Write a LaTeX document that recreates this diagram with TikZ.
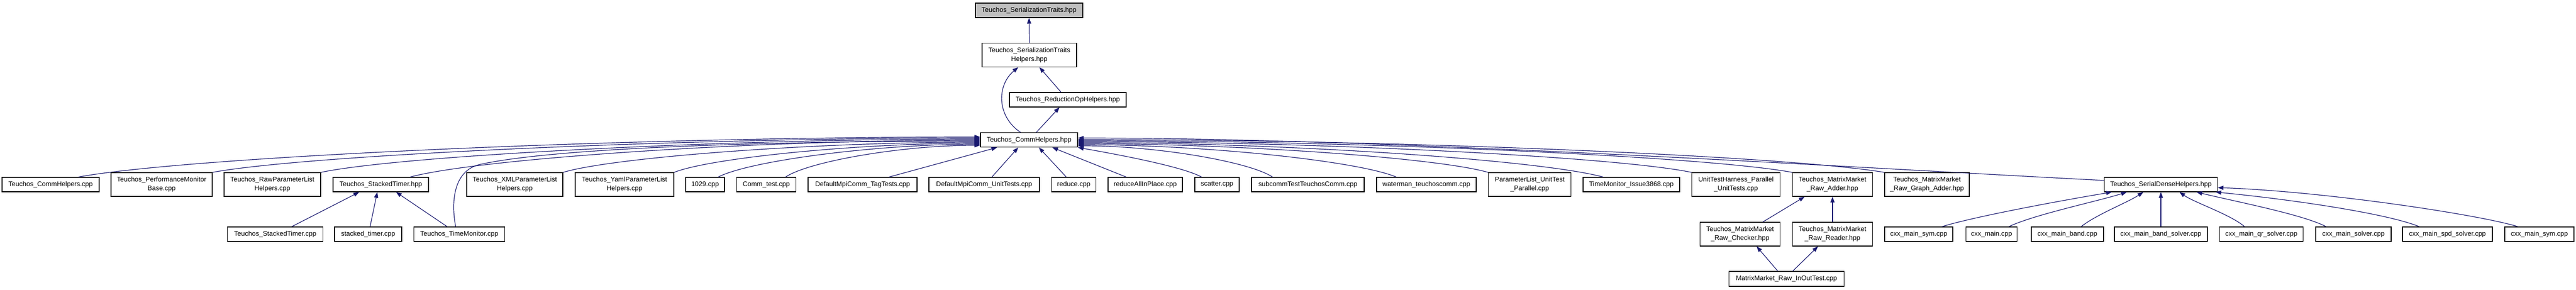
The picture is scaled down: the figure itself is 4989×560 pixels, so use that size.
\documentclass[tikz,border=0pt]{standalone}
\usepackage{fontspec}
\setmainfont{Liberation Sans}
\usetikzlibrary{arrows.meta}
\definecolor{edgeblue}{RGB}{25,25,112}
\definecolor{topgray}{RGB}{191,191,191}
\begin{document}
\begin{tikzpicture}[x=1pt,y=-1pt,
  box/.style={draw=black,line width=1.2pt,fill=white,inner sep=0pt,align=center,font=\fontsize{13}{17}\selectfont},
  one/.style={box,minimum height=28pt},
  two/.style={box,minimum height=46pt},
  dep/.style={draw=edgeblue,line width=1.2pt,-{Triangle[length=11pt,width=8pt]}}]
\fill[white] (0,0) rectangle (4989,560);
\useasboundingbox (0,0) rectangle (4989,560);
% top part
\node[one,fill=topgray,minimum width=208pt] (top) at (1993,20) {Teuchos\_SerializationTraits.hpp};
\node[two,minimum width=183pt] (hlp) at (1993.5,106.5) {Teuchos\_SerializationTraits\\Helpers.hpp};
\node[one,minimum width=226pt] (red) at (2068,193) {Teuchos\_ReductionOpHelpers.hpp};
\node[one,minimum width=188pt] (chh) at (1993,270.7) {Teuchos\_CommHelpers.hpp};
% row 1
\node[one,minimum width=188pt] (chcpp) at (98,357) {Teuchos\_CommHelpers.cpp};
\node[two,minimum width=196pt] (perf) at (313,357) {Teuchos\_PerformanceMonitor\\Base.cpp};
\node[two,minimum width=187pt] (raw) at (527.5,357) {Teuchos\_RawParameterList\\Helpers.cpp};
\node[one,minimum width=185pt] (sth) at (737.5,357) {Teuchos\_StackedTimer.hpp};
\node[two,minimum width=186pt] (xml) at (997,357) {Teuchos\_XMLParameterList\\Helpers.cpp};
\node[two,minimum width=191pt] (yaml) at (1209.5,357) {Teuchos\_YamlParameterList\\Helpers.cpp};
\node[one,minimum width=75pt] (n1029) at (1365.5,357) {1029.cpp};
\node[one,minimum width=115pt] (commtest) at (1484,357) {Comm\_test.cpp};
\node[one,minimum width=211pt] (tag) at (1670.5,357) {DefaultMpiComm\_TagTests.cpp};
\node[one,minimum width=214pt] (unit) at (1906,357) {DefaultMpiComm\_UnitTests.cpp};
\node[one,minimum width=86pt] (reduce) at (2079.6,357) {reduce.cpp};
\node[one,minimum width=144pt] (rail) at (2218,357) {reduceAllInPlace.cpp};
\node[one,minimum width=86pt] (scatter) at (2357,357) {scatter.cpp};
\node[one,minimum width=218pt] (subcomm) at (2533,357) {subcommTestTeuchosComm.cpp};
\node[one,minimum width=193pt] (waterman) at (2762.5,357) {waterman\_teuchoscomm.cpp};
\node[two,minimum width=160pt] (plut) at (2962.6,357) {ParameterList\_UnitTest\\\_Parallel.cpp};
\node[one,minimum width=187pt] (tm3868) at (3159.5,357) {TimeMonitor\_Issue3868.cpp};
\node[two,minimum width=171pt] (uth) at (3362,357) {UnitTestHarness\_Parallel\\\_UnitTests.cpp};
\node[two,minimum width=155pt] (adder) at (3549,357) {Teuchos\_MatrixMarket\\\_Raw\_Adder.hpp};
\node[two,minimum width=164pt] (gadder) at (3732,357) {Teuchos\_MatrixMarket\\\_Raw\_Graph\_Adder.hpp};
\node[one,minimum width=219pt] (sdh) at (4185,357) {Teuchos\_SerialDenseHelpers.hpp};
% row 2
\node[one,minimum width=185pt] (stcpp) at (533,453) {Teuchos\_StackedTimer.cpp};
\node[one,minimum width=130pt] (stk) at (713,453) {stacked\_timer.cpp};
\node[one,minimum width=176pt] (tmcpp) at (889.5,453) {Teuchos\_TimeMonitor.cpp};
\node[two,minimum width=155pt] (checker) at (3370,453) {Teuchos\_MatrixMarket\\\_Raw\_Checker.hpp};
\node[two,minimum width=155pt] (reader) at (3549,453) {Teuchos\_MatrixMarket\\\_Raw\_Reader.hpp};
\node[one,minimum width=132pt] (cxa) at (3716,453) {cxx\_main\_sym.cpp};
\node[one,minimum width=99pt] (cxb) at (3857,453) {cxx\_main.cpp};
\node[one,minimum width=140pt] (cxc) at (4004,453) {cxx\_main\_band.cpp};
\node[one,minimum width=180pt] (cxd) at (4185,453) {cxx\_main\_band\_solver.cpp};
\node[one,minimum width=162pt] (cxe) at (4379.5,453) {cxx\_main\_qr\_solver.cpp};
\node[one,minimum width=146pt] (cxf) at (4558,453) {cxx\_main\_solver.cpp};
\node[one,minimum width=174pt] (cxg) at (4740,453) {cxx\_main\_spd\_solver.cpp};
\node[one,minimum width=134pt] (cxh) at (4918,453) {cxx\_main\_sym.cpp};
% row 3
\node[box,minimum height=29pt,minimum width=223pt] (inout) at (3460,539.5) {MatrixMarket\_Raw\_InOutTest.cpp};
% top edges
\draw[dep] (hlp.north) -- (top.south);
\draw[dep] (2055,0 |- red.north) -- (2013,0 |- hlp.south);
\draw[dep] (1976.6,0 |- chh.north) .. controls (1930,225) and (1930,165) .. (1972,0 |- hlp.south);
\draw[dep] (2007,0 |- chh.north) -- (2052,0 |- red.south);
% left edges into CommHelpers.hpp
\draw[dep] (152,0 |- chcpp.north) .. controls (362,304) and (1200,265) .. (chh.west |- 0,265);
\draw[dep] (perf.north east) .. controls (590,300.5) and (1304,267) .. (chh.west |- 0,267);
\draw[dep] (raw.north east) .. controls (774,301.5) and (1388,269) .. (chh.west |- 0,269);
\draw[dep] (794.5,0 |- sth.north) .. controls (927,307) and (1457,271) .. (chh.west |- 0,271);
\draw[dep] (882.5,0 |- tmcpp.north) .. controls (874,395) and (876,330) .. (930,318) .. controls (1080,285) and (1500,273) .. (chh.west |- 0,273);
\draw[dep] (xml.north east) .. controls (1187,304.5) and (1575,275) .. (chh.west |- 0,275);
\draw[dep] (yaml.north east) .. controls (1376,305.5) and (1661.5,277) .. (chh.west |- 0,277);
\draw[dep] (1391,0 |- n1029.north) .. controls (1452,311) and (1696,279) .. (chh.west |- 0,279);
\draw[dep] (1521.5,0 |- commtest.north) .. controls (1567,312) and (1748,281) .. (chh.west |- 0,281);
% bottom edges
\draw[dep] (1722,0 |- tag.north) -- (1931,0 |- chh.south);
\draw[dep] (1921,0 |- unit.north) -- (1972,0 |- chh.south);
\draw[dep] (2065,0 |- reduce.north) -- (2012,0 |- chh.south);
\draw[dep] (2181,0 |- rail.north) -- (2038,0 |- chh.south);
\draw[dep] (2327,0 |- scatter.north) .. controls (2290,322) and (2160,298) .. (chh.south east);
% right edges
\draw[dep] (2464.5,0 |- subcomm.north) .. controls (2419,312.5) and (2238,282) .. (chh.east |- 0,282);
\draw[dep] (2704,0 |- waterman.north) .. controls (2630,311.5) and (2334,280) .. (chh.east |- 0,280);
\draw[dep] (plut.north west) .. controls (2787,306) and (2405,278) .. (chh.east |- 0,278);
\draw[dep] (3104.6,0 |- tm3868.north) .. controls (2982.5,309.5) and (2494,276) .. (chh.east |- 0,276);
\draw[dep] (uth.north west) .. controls (3134,304) and (2563,274) .. (chh.east |- 0,274);
\draw[dep] (adder.north west) .. controls (3306,303) and (2641,272) .. (chh.east |- 0,272);
\draw[dep] (gadder.north west) .. controls (3462.5,302) and (2712,270) .. (chh.east |- 0,270);
\draw[dep] (sdh.west |- 0,349) .. controls (3600,325) and (2700,267) .. (chh.east |- 0,267);
% stacked timer
\draw[dep] (565,0 |- stcpp.north) -- (695.7,0 |- sth.south);
\draw[dep] (716.7,0 |- stk.north) -- (730.7,0 |- sth.south);
\draw[dep] (866,0 |- tmcpp.north) -- (767,0 |- sth.south);
% matrix market
\draw[dep] (3414,0 |- checker.north) -- (3495,0 |- adder.south);
\draw[dep] (reader.north) -- (adder.south);
\draw[dep] (3443,0 |- inout.north) -- (3402,0 |- checker.south);
\draw[dep] (3472,0 |- inout.north) -- (3521,0 |- reader.south);
% serial dense helpers
\draw[dep] (3761,0 |- cxa.north) .. controls (3820,420) and (3980,390) .. (4090,0 |- sdh.south);
\draw[dep] (3890.5,0 |- cxb.north) .. controls (3940,415) and (4060,390) .. (4119,0 |- sdh.south);
\draw[dep] (4030.6,0 |- cxc.north) .. controls (4060,415) and (4120,392) .. (4151,0 |- sdh.south);
\draw[dep] (cxd.north) -- (sdh.south);
\draw[dep] (4347,0 |- cxe.north) .. controls (4320,415) and (4250,392) .. (4221,0 |- sdh.south);
\draw[dep] (4505,0 |- cxf.north) .. controls (4460,415) and (4330,390) .. (4254,0 |- sdh.south);
\draw[dep] (4685.5,0 |- cxg.north) .. controls (4620,412) and (4430,385) .. (4291,0 |- sdh.south);
\draw[dep] (4876.5,0 |- cxh.north) .. controls (4800,415) and (4500,370) .. (sdh.east |- 0,363);
\end{tikzpicture}
\end{document}
